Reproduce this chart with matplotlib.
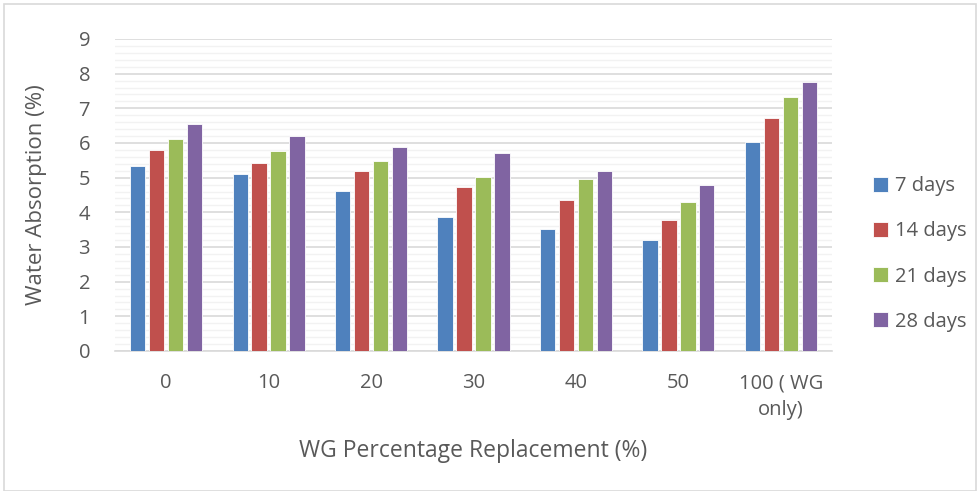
import matplotlib
matplotlib.use("Agg")
import matplotlib.pyplot as plt
from matplotlib.patches import Rectangle
from matplotlib.ticker import MultipleLocator
import numpy as np

categories = ["0", "10", "20", "30", "40", "50", "100 ( WG\nonly)"]
series_names = ["7 days", "14 days", "21 days", "28 days"]
days_7 = [5.34, 5.11, 4.61, 3.86, 3.53, 3.20, 6.02]
days_14 = [5.80, 5.42, 5.20, 4.73, 4.36, 3.77, 6.71]
days_21 = [6.11, 5.76, 5.48, 5.02, 4.96, 4.31, 7.32]
days_28 = [6.55, 6.20, 5.88, 5.70, 5.18, 4.79, 7.75]
colors = ["#4F81BD", "#C0504D", "#9BBB59", "#8064A2"]

text_color = "#595959"
plt.rcParams["font.family"] = ["Open Sans", "DejaVu Sans"]

fig = plt.figure(figsize=(9.8, 4.91), dpi=100)
ax = fig.add_axes([115 / 980, 1 - 351 / 491, 717 / 980, 312 / 491])

x = np.arange(len(categories))
width = 0.15
step = 0.185
for i, (vals, name, col) in enumerate(zip([days_7, days_14, days_21, days_28], series_names, colors)):
    ax.bar(x + (i - 1.5) * step, vals, width=width, color=col, label=name,
           edgecolor="white", linewidth=0.6, zorder=3)

ax.set_xlim(-0.5, len(categories) - 0.5)
ax.set_ylim(0, 9)
ax.yaxis.set_major_locator(MultipleLocator(1))
ax.yaxis.set_minor_locator(MultipleLocator(0.2))
ax.grid(axis="y", which="major", color="#D9D9D9", linewidth=1.2, zorder=0)
ax.grid(axis="y", which="minor", color="#F2F2F2", linewidth=1.0, zorder=0)
ax.set_axisbelow(True)
for s in ["top", "right", "left"]:
    ax.spines[s].set_visible(False)
ax.spines["bottom"].set_color("#D9D9D9")
ax.spines["bottom"].set_linewidth(1.2)

ax.set_xticks(x)
ax.set_xticklabels(categories, fontsize=14.5, color=text_color, linespacing=1.45,
                   verticalalignment="top")
ax.tick_params(axis="x", length=0, pad=16)
ax.tick_params(axis="y", which="both", length=0, labelsize=14.5, labelcolor=text_color, pad=18)

ax.set_ylabel("Water Absorption (%)", fontsize=16, color=text_color)
ax.yaxis.set_label_coords(-68 / 717, 0.5)
ax.set_xlabel("WG Percentage Replacement (%)", fontsize=16.5, color=text_color, labelpad=14)

leg = fig.legend(loc="center left", bbox_to_anchor=(855 / 980, 1 - 254 / 491), frameon=False,
                 fontsize=14.5, labelcolor=text_color, handlelength=0.75, handleheight=0.75,
                 handletextpad=0.35, labelspacing=1.25)

fig.patches.append(Rectangle((4 / 980, 0), 1 - 8 / 980, 1 - 4 / 491, transform=fig.transFigure,
                             fill=False, edgecolor="#D9D9D9", linewidth=1.2))

fig.savefig("out.png", dpi=100)
